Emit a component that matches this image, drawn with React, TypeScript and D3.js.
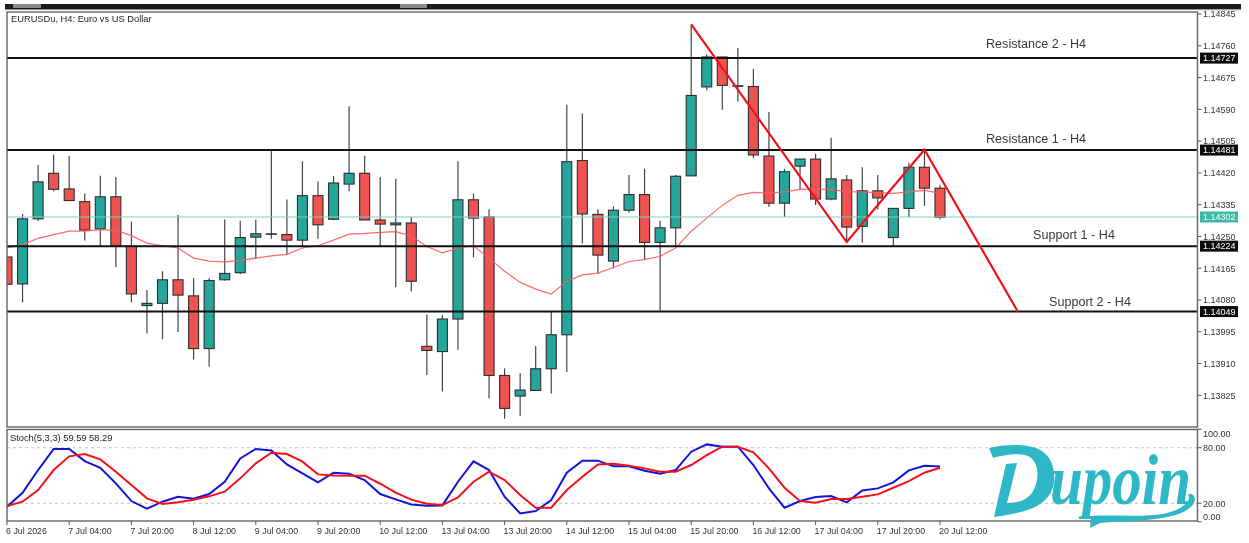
import * as d3 from 'd3';

const WIDTH = 1249;
const HEIGHT = 543;

// H4 candles
const opens = [1.14195,1.14123,1.14297,1.14419,1.14377,1.14343,1.14270,1.14356,1.14224,1.14065,1.14071,1.14134,1.14091,1.13950,1.14134,1.14153,1.14248,1.14256,1.14255,1.14240,1.14359,1.14296,1.14390,1.14419,1.14294,1.14281,1.14286,1.13956,1.13942,1.14029,1.14348,1.14302,1.13878,1.13823,1.13838,1.13896,1.13987,1.14453,1.14309,1.14184,1.14320,1.14362,1.14234,1.14273,1.14412,1.14650,1.14730,1.14653,1.14651,1.14465,1.14339,1.14438,1.14457,1.14350,1.14401,1.14277,1.14372,1.14247,1.14325,1.14435,1.14379];
const closes = [1.14122,1.14297,1.14396,1.14376,1.14346,1.14267,1.14356,1.14224,1.14096,1.14071,1.14134,1.14093,1.13950,1.14132,1.14151,1.14247,1.14257,1.14257,1.14240,1.14359,1.14281,1.14393,1.14419,1.14294,1.14283,1.14286,1.14130,1.13945,1.14029,1.14348,1.14299,1.13878,1.13790,1.13839,1.13896,1.13987,1.14450,1.14310,1.14200,1.14320,1.14362,1.14234,1.14273,1.14411,1.14627,1.14730,1.14654,1.14652,1.14468,1.14339,1.14423,1.14457,1.14350,1.14404,1.14275,1.14372,1.14353,1.14325,1.14435,1.14379,1.14301];
const highs = [1.14195,1.14310,1.14441,1.14469,1.14466,1.14365,1.14412,1.14409,1.14290,1.14107,1.14157,1.14307,1.14139,1.14139,1.14295,1.14292,1.14295,1.14482,1.14349,1.14451,1.14397,1.14412,1.14598,1.14466,1.14409,1.14404,1.14302,1.14042,1.14040,1.14451,1.14365,1.14323,1.13897,1.13884,1.13957,1.14050,1.14602,1.14579,1.14323,1.14331,1.14414,1.14431,1.14292,1.14414,1.14817,1.14737,1.14730,1.14754,1.14698,1.14583,1.14431,1.14457,1.14471,1.14514,1.14414,1.14435,1.14414,1.14325,1.14447,1.14482,1.14388];
const lows = [1.14122,1.14074,1.14291,1.14371,1.14346,1.14239,1.14224,1.14168,1.14074,1.13991,1.13975,1.13994,1.13921,1.13902,1.14132,1.14149,1.14190,1.14244,1.14202,1.14224,1.14244,1.14293,1.14371,1.14294,1.14224,1.14114,1.14103,1.13879,1.13835,1.13947,1.14194,1.13817,1.13762,1.13769,1.13838,1.13830,1.13887,1.14231,1.14150,1.14164,1.14314,1.14187,1.14050,1.14224,1.14412,1.14641,1.14589,1.14611,1.14460,1.14329,1.14302,1.14375,1.14334,1.14347,1.14235,1.14233,1.14322,1.14224,1.14302,1.14332,1.14295];
const movingAvg = [1.14219,1.14228,1.14245,1.14255,1.14264,1.14264,1.14268,1.14266,1.14252,1.14232,1.14225,1.14219,1.14192,1.14184,1.14182,1.14186,1.14192,1.14198,1.14202,1.14219,1.14225,1.14240,1.14256,1.14258,1.14261,1.14263,1.14251,1.14223,1.14206,1.14219,1.14225,1.14192,1.14157,1.14127,1.14109,1.14096,1.14130,1.14147,1.14152,1.14167,1.14183,1.14188,1.14197,1.14219,1.14264,1.14299,1.14333,1.14360,1.14368,1.14366,1.14369,1.14376,1.14377,1.14375,1.14370,1.14369,1.14367,1.14365,1.14369,1.14373,1.14366];

const stochMain = [16.3,31.4,55.9,78.6,78.6,65.6,58.4,41.5,22.4,14.1,21.7,27.1,25,30,43.3,68.5,78.6,77.1,62,52.3,42.6,53,51.9,45.1,30,24.2,18.8,17.4,17.7,43.3,65.3,55.9,27.1,9.1,11.6,23.5,53,66,66,59.9,59.9,55.2,51.9,55.9,75.7,83.6,81.1,81.1,61.3,36.1,15.2,22.4,26.7,27.8,21,33.9,36.1,42.6,55.5,60.6,59.59];
const stochSignal = [17,21.7,34.3,55.9,70.7,73.2,67.4,54.1,39.7,25.3,19.2,21,23.9,27.5,32.5,46.9,63.1,74.6,73.2,64.9,51.2,50.1,49.8,49.8,41.1,31.4,23.9,19.5,18.1,26.4,43.3,54.1,45.1,28.9,15.2,15.2,34.3,48.7,62,62.7,60.6,57.7,54.1,54.1,61.3,72.1,81.1,81.1,75,57.7,36.8,22.4,20.6,24.6,24.6,27.1,29.6,36.8,44,53,58.29];

const priceTicks = [1.14845,1.1476,1.14675,1.1459,1.14505,1.1442,1.14335,1.1425,1.14165,1.1408,1.13995,1.1391,1.13825];
const timeLabels = ['6 Jul 2026','7 Jul 04:00','7 Jul 20:00','8 Jul 12:00','9 Jul 04:00','9 Jul 20:00','10 Jul 12:00','13 Jul 04:00','13 Jul 20:00','14 Jul 12:00','15 Jul 04:00','15 Jul 20:00','16 Jul 12:00','17 Jul 04:00','17 Jul 20:00','20 Jul 12:00'];

const levelPrices = [1.14727,1.14481,1.14224,1.14049];
const levelNames = ['Resistance 2 - H4','Resistance 1 - H4','Support 1 - H4','Support 2 - H4'];
const lastPrice = 1.14302;

// hand drawn zigzag: candle index / price
const zigzagIdx = [44,54,59,65];
const zigzagPrice = [1.14817,1.14235,1.14482,1.14049];

const stochTicks = [100,80,20,0];
const stochLevels = [80,20];

const GREEN = '#26a69a';
const RED = '#ef5350';
const FONT = '"Liberation Sans", Arial, sans-serif';

const left = 7;
const right = 1197.5;
const top = 12;
const bottom = 427;
const subTop = 429.5;
const subBottom = 521;
const levelLabelX = [986,986,1033,1049];
const levelLabelY = [47.8,142.8,239,306];

const x = d3.scaleLinear().domain([0, 60]).range([7, 940]);
const y = d3.scaleLinear().domain([1.14845, 1.13825]).range([14, 395.3]);
const yStoch = d3.scaleLinear().domain([0, 100]).range([521.8, 429.2]);

const maLine = d3.line<number>().x((_, i) => x(i)).y(d => y(d)).curve(d3.curveLinear);
const stochLine = d3.line<number>().x((_, i) => x(i)).y(d => yStoch(d));
const zigzagLine = d3.line<number>().x((d) => x(d)).y((_, i) => y(zigzagPrice[i]));

// labels at the pane edges get pushed inside
const stochLabelY = (v: number) => (v === 100 ? 437 : v === 0 ? 519.5 : yStoch(v) + 3.5);

export default function App() {
  return (
    <svg
      width={WIDTH}
      height={HEIGHT}
      viewBox={`0 0 ${WIDTH} ${HEIGHT}`}
      style={{ position: 'absolute', left: 0, top: 0, display: 'block', background: '#fff', filter: 'blur(0.35px)' }}
      fontFamily={FONT}
    >
      <defs>
        <clipPath id="main-pane">
          <rect x={left} y={top} width={right - left} height={bottom - top} />
        </clipPath>
        <clipPath id="sub-pane">
          <rect x={left} y={subTop} width={right - left} height={subBottom - subTop} />
        </clipPath>
      </defs>

      {/* cropped toolbar at the top of the terminal */}
      <rect x={5} y={4} width={1236} height={5.5} fill="#1c1c1c" />
      <rect x={13} y={4} width={28} height={4} fill="#8a8a8a" />
      <rect x={400} y={4} width={27} height={4} fill="#8a8a8a" />
      <rect x={1199} y={9.5} width={42} height={1} fill="#bbb" />

      {/* candles */}
      <g clipPath="url(#main-pane)">
        {opens.map((o, i) => {
          const c = closes[i];
          const up = c >= o;
          const bodyTop = y(Math.max(o, c));
          const bodyH = Math.abs(y(o) - y(c));
          return (
            <g key={i}>
              <line x1={x(i)} x2={x(i)} y1={y(highs[i])} y2={y(lows[i])} stroke="#444" strokeWidth={1.2} />
              <rect x={x(i) - 5} y={bodyTop} width={10} height={Math.max(bodyH, 0.5)} fill={up ? GREEN : RED} stroke="#2e2e2e" strokeWidth={1.1} />
            </g>
          );
        })}
        <path d={maLine(movingAvg) ?? ''} fill="none" stroke="#ff5a5a" strokeOpacity={0.9} strokeWidth={1.2} />
        <line x1={left} x2={right} y1={y(lastPrice)} y2={y(lastPrice)} stroke="#7fcfc4" strokeWidth={1} />
        {levelPrices.map(p => (
          <line key={p} x1={left} x2={right} y1={y(p)} y2={y(p)} stroke="#111" strokeWidth={2} />
        ))}
        <path d={zigzagLine(zigzagIdx) ?? ''} fill="none" stroke="#f2101c" strokeWidth={2.2} strokeLinejoin="miter" />
      </g>

      {levelNames.map((name, i) => (
        <text key={name} x={levelLabelX[i]} y={levelLabelY[i]} fontSize={12.6} fill="#3a3a3a">
          {name}
        </text>
      ))}

      <text x={11} y={22} fontSize={9.3} fill="#222">EURUSDu, H4:  Euro vs US Dollar</text>

      {/* stochastic pane */}
      {stochLevels.map(v => (
        <line key={v} x1={left} x2={right} y1={yStoch(v)} y2={yStoch(v)} stroke="#c4c4c4" strokeWidth={1} strokeDasharray="3 3" />
      ))}
      <g clipPath="url(#sub-pane)">
        <path d={stochLine(stochMain) ?? ''} fill="none" stroke="#1414d8" strokeWidth={2} />
        <path d={stochLine(stochSignal) ?? ''} fill="none" stroke="#f5101a" strokeWidth={2} />
      </g>
      <text x={10} y={441} fontSize={9.3} fill="#222">Stoch(5,3,3) 59.59 58.29</text>

      {/* pane frames */}
      <g fill="none" stroke="#666" strokeWidth={1.4}>
        <rect x={left} y={top} width={right - left} height={bottom - top} />
        <rect x={left} y={subTop} width={right - left} height={subBottom - subTop} />
      </g>

      {/* price axis */}
      {priceTicks.map(p => (
        <g key={p}>
          <line x1={right} x2={right + 4} y1={y(p)} y2={y(p)} stroke="#555" />
          <text x={1203} y={y(p) + 3.3} fontSize={9} fill="#333">{p.toFixed(5)}</text>
        </g>
      ))}
      {levelPrices.map(p => (
        <g key={p}>
          <rect x={1200} y={y(p) - 5.5} width={38} height={11} fill="#0a0a0a" />
          <text x={1203} y={y(p) + 3.3} fontSize={9} fill="#fff">{p.toFixed(5)}</text>
        </g>
      ))}
      <rect x={1200} y={y(lastPrice) - 5.5} width={38} height={11} fill="#3fb8a8" />
      <text x={1203} y={y(lastPrice) + 3.3} fontSize={9} fill="#fff">{lastPrice.toFixed(5)}</text>

      {/* stochastic axis */}
      {stochTicks.map(v => (
        <g key={v}>
          <line x1={right} x2={right + 4} y1={yStoch(v)} y2={yStoch(v)} stroke="#555" />
          <text x={1203} y={stochLabelY(v)} fontSize={9} fill="#333">{v.toFixed(2)}</text>
        </g>
      ))}

      {/* time axis */}
      {timeLabels.map((t, i) => (
        <g key={t}>
          <line x1={x(i * 4)} x2={x(i * 4)} y1={subBottom} y2={subBottom + 4} stroke="#555" />
          <text x={i === 0 ? 6 : x(i * 4) - 1} y={534} fontSize={8.9} fill="#333">{t}</text>
        </g>
      ))}

      {/* logo */}
      <g fill="#2eb7c6">
        <path d="M989,448 C1005,444 1030,443 1042,451 C1054,459 1056,475 1053,487 C1048,503 1034,512 994,517 L1006,464 L1017,463 L1007,503 C1022,503 1032,498 1036,484 C1040,470 1036,458 1025,455 C1015,453 1000,456 993,458 Z" />
        <text transform="translate(1050,504) scale(0.82,1)" fontFamily='"Liberation Serif", serif' fontStyle="italic" fontWeight="bold" fontSize={72}>upoin</text>
        <path d="M1091,516 C1120,514 1160,520 1180,508 C1190,502 1190,497 1188,495 C1192,492 1197,497 1194,503 C1182,522 1135,520 1100,523 L1090,528 Z" />
      </g>
    </svg>
  );
}
